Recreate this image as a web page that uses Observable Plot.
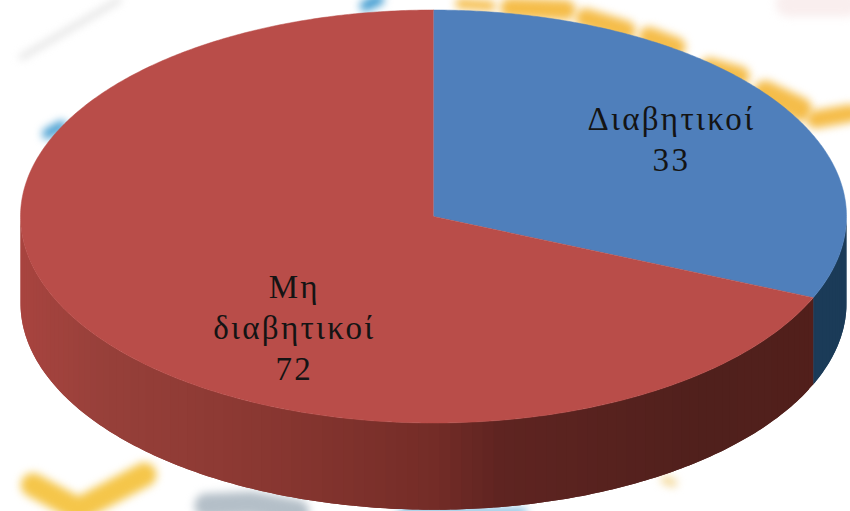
<!DOCTYPE html>
<html>
<head>
<meta charset="utf-8">
<script src="https://cdn.jsdelivr.net/npm/d3@7"></script>
<script src="https://cdn.jsdelivr.net/npm/@observablehq/plot@0.6"></script>
<style>
  html, body { margin: 0; padding: 0; background: #fff; overflow: hidden; }
  .smudge { filter: blur(4px); }
  .pie-label text { letter-spacing: 2.3px; }
</style>
</head>
<body>
<div id="chart"></div>
<script>
// Chart data
const categories = ["Διαβητικοί", "Μη διαβητικοί"];
const values = [33, 72];
const labelLines = ["Διαβητικοί\n33", "Μη\nδιαβητικοί\n72"];

// Appearance
const topColors = ["#4f7fbb", "#b94d49"];
const blueWall = "#1b3b58";
const wallStops = [-1, -0.8, -0.44, 0, 0.16, 0.65, 1];
const wallShades = ["#a8443f", "#97403a", "#8b3832", "#742c27", "#5f2421", "#50201c", "#521f1b"];
const depth = 0.42;               // wall height in radii
const labelAnchors = [[0.576, 0.385], [-0.337, -0.53]];

// Faded fragments of the picture behind the pie, in the same unit space
const backdrop = [
  {color: "#f9eeee", width: 26, pts: [[0.86, 1.03], [1.0, 1.03]]},
  {color: "#d8d8d8", width: 4, pts: [[-0.998, 0.77], [-0.76, 1.05]]},
  {color: "#3f9bd0", width: 10, pts: [[-0.935, 0.40], [-0.9, 0.44]]},
  {color: "#3f9bd0", width: 11, pts: [[-0.165, 1.02], [-0.133, 1.05]]},
  {color: "#f5bd4a", width: 10, pts: [[0.065, 1.03], [0.138, 1.02]]},
  {color: "#f5bd4a", width: 20, pts: [[0.186, 1.01], [0.32, 1.0]]},
  {color: "#f5bd4a", width: 20, pts: [[0.368, 0.96], [0.465, 0.90]]},
  {color: "#f5bd4a", width: 20, pts: [[0.521, 0.87], [0.586, 0.82]]},
  {color: "#f5bd4a", width: 20, pts: [[0.669, 0.72], [0.741, 0.68]]},
  {color: "#f5bd4a", width: 24, pts: [[0.803, 0.60], [0.887, 0.52]]},
  {color: "#f5bd4a", width: 18, pts: [[0.925, 0.47], [1.01, 0.50]]},
  {color: "#f5c64a", width: 24, pts: [[-0.97, -1.30], [-0.86, -1.42], [-0.70, -1.25]]},
  {color: "#b4bfc8", width: 24, pts: [[-0.55, -1.40], [-0.44, -1.39], [-0.33, -1.43]]},
  {color: "#f3d795", width: 8, pts: [[0.56, -1.275], [0.58, -1.29]]},
  {color: "#3f9bd0", width: 5, pts: [[-0.08, -1.43], [0.22, -1.43]]}
];

// Slices from the values
const arcs = d3.pie().sort(null)(values);
const clockAngles = (a) => d3.range(a.startAngle, a.endAngle, Math.PI / 360).concat(a.endAngle);
const topRows = arcs.flatMap((a, i) => [
  {slice: i, x: 0, y: 0},
  ...clockAngles(a).map((t) => ({slice: i, x: Math.sin(t), y: Math.cos(t)}))
]);
const shade = d3.scaleLinear().domain(wallStops).range(wallShades);
const wallRows = [];
arcs.forEach((a, i) => {
  const from = Math.max(a.startAngle, Math.PI / 2);
  const to = Math.min(a.endAngle, 1.5 * Math.PI);
  const step = Math.PI / 120;
  for (let t = from, k = 0; t < to; t += step, k++) {
    const color = i === 0 ? blueWall : shade(Math.sin(t + step / 2));
    // each strip runs over into the next one, so no seams show between them
    const outline = [];
    for (let q = t; ; q += step / 2) {
      const ang = Math.min(q, Math.min(t + 2 * step, to));
      outline.push(ang);
      if (ang >= Math.min(t + 2 * step, to)) break;
    }
    for (const ang of outline) wallRows.push({strip: `${i}-${k}`, color, x: Math.sin(ang), y: Math.cos(ang)});
    for (const ang of outline.slice().reverse()) wallRows.push({strip: `${i}-${k}`, color, x: Math.sin(ang), y: Math.cos(ang) - depth});
  }
});
const labelRows = arcs.map((a, i) => ({text: labelLines[i], x: labelAnchors[i][0], y: labelAnchors[i][1]}));
const backdropRows = backdrop.flatMap((b, i) => b.pts.map(([x, y]) => ({id: i, x, y})));

const chart = Plot.plot({
  width: 850, height: 511,
  margin: 0,
  x: {axis: null, domain: [-433 / 413, 417 / 413], range: [0, 850]},
  y: {axis: null, domain: [-295 / 206.5, 216 / 206.5], range: [511, 0]},
  color: {type: "identity"},
  marks: [
    ...backdrop.map((b, i) => Plot.line(backdropRows.filter((r) => r.id === i), {
      x: "x", y: "y", stroke: b.color, strokeWidth: b.width, strokeLinecap: "round",
      curve: "linear", className: "smudge"
    })),
    Plot.line(wallRows, {x: "x", y: "y", z: "strip", fill: "color", stroke: "none"}),
    Plot.line(topRows, {x: "x", y: "y", z: "slice", fill: (d) => topColors[d.slice], stroke: (d) => topColors[d.slice], strokeWidth: 0.5}),
    Plot.text(labelRows, {
      x: "x", y: "y", text: "text", fill: "#141414",
      fontFamily: "Liberation Serif", fontSize: 33, lineHeight: 1.24, textAnchor: "middle",
      className: "pie-label"
    })
  ]
});
chart.setAttribute("aria-label", categories.join(", "));
document.getElementById("chart").appendChild(chart);
</script>
</body>
</html>
